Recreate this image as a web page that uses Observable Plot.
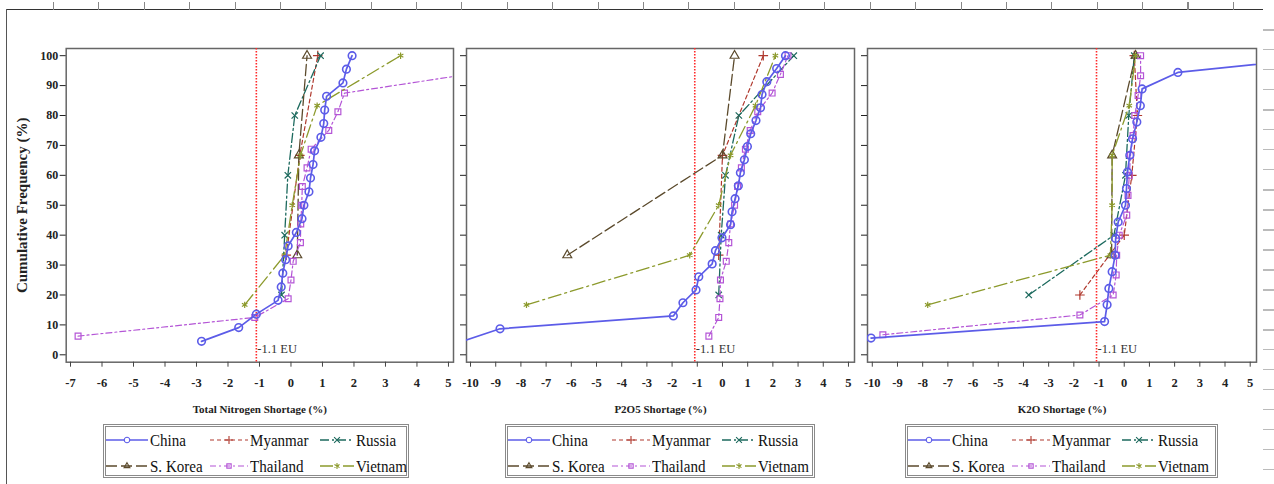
<!DOCTYPE html>
<html><head><meta charset="utf-8">
<script src="https://cdn.jsdelivr.net/npm/d3@7"></script>
<script src="https://cdn.jsdelivr.net/npm/@observablehq/plot@0.6"></script>
<style>
html,body{margin:0;padding:0;background:#fff;}
#root{position:relative;width:1274px;height:484px;overflow:hidden;font-family:"Liberation Serif","Times New Roman",serif;}
.panel{position:absolute;top:0;}
.panel text{font-family:"Liberation Serif","Times New Roman",serif;}
.legend{position:absolute;top:424px;height:54px;border:3px double #8a8a8a;box-sizing:border-box;background:#fff;}
.item{position:absolute;display:flex;align-items:center;height:22px;font-size:17.5px;color:#111;white-space:nowrap;font-family:"Liberation Serif","Times New Roman",serif;}
.item svg{margin-right:2px;}
.item span{display:inline-block;transform:scaleX(0.86);transform-origin:left center;}
.deco{position:absolute;}
</style></head>
<body><div id="root"></div>
<script>
// ---------- data ----------
const countries = ["China", "Myanmar", "Russia", "S. Korea", "Thailand", "Vietnam"];
const panelTitles = ["Total Nitrogen Shortage (%)", "P2O5 Shortage (%)", "K2O Shortage (%)"];
const yLabel = "Cumulative Frequency (%)";
const euThreshold = [-1.1];
const euLabel = ["-1.1 EU"];
const yTicks = [0, 10, 20, 30, 40, 50, 60, 70, 80, 90, 100];
const nTicks = [-7, -6, -5, -4, -3, -2, -1, 0, 1, 2, 3, 4, 5];
const pkTicks = [-10, -9, -8, -7, -6, -5, -4, -3, -2, -1, 0, 1, 2, 3, 4, 5];

// Total nitrogen shortage: [shortage %, cumulative frequency %]
const N_China = [[-2.84,4.5],[-1.66,9.1],[-1.1,13.6],[-0.41,18.2],[-0.31,22.7],[-0.26,27.3],[-0.17,31.8],[-0.09,36.4],[0.17,40.9],[0.35,45.5],[0.41,50],[0.57,54.5],[0.62,59.1],[0.70,63.6],[0.75,68.2],[0.95,72.7],[1.04,77.3],[1.07,81.8],[1.13,86.4],[1.65,90.9],[1.76,95.5],[1.94,100]];
const N_Myanmar = [[-0.15,33.3],[0.28,66.7],[0.85,100]];
const N_Russia = [[-0.3,20],[-0.2,40],[-0.1,60],[0.12,80],[0.94,100]];
const N_SKorea = [[0.2,33.3],[0.25,66.7],[0.51,100]];
const N_Thailand = [[-6.76,6.25],[-1.15,12.5],[-0.09,18.75],[0.0,25],[0.07,31.25],[0.3,37.5],[0.31,43.75],[0.34,50],[0.36,56.25],[0.51,62.5],[0.64,68.75],[1.2,75],[1.49,81.25],[1.7,87.5],[5.6,93.75],[10,100]];
const N_Vietnam = [[-1.47,16.7],[-0.2,33.3],[0.04,50],[0.3,66.7],[0.83,83.3],[3.48,100]];

// P2O5 shortage
const P_China = [[-10.4,4.3],[-8.83,8.7],[-1.95,13.0],[-1.57,17.4],[-1.05,21.7],[-0.94,26.1],[-0.41,30.4],[-0.28,34.8],[-0.02,39.1],[0.32,43.5],[0.38,47.8],[0.5,52.2],[0.63,56.5],[0.71,60.9],[0.87,65.2],[0.99,69.6],[1.12,73.9],[1.33,78.3],[1.51,82.6],[1.57,87.0],[1.76,91.3],[2.15,95.7],[2.5,100]];
const P_Myanmar = [[-0.15,33.3],[0.0,66.7],[1.62,100]];
const P_Russia = [[-0.15,20],[-0.05,40],[0.12,60],[0.65,80],[2.83,100]];
const P_SKorea = [[-6.16,33.3],[0.0,66.7],[0.48,100]];
const P_Thailand = [[-0.54,6.25],[-0.15,12.5],[-0.1,18.75],[-0.08,25],[0.15,31.25],[0.25,37.5],[0.32,43.75],[0.48,50],[0.6,56.25],[0.75,62.5],[0.91,68.75],[1.1,75],[1.4,81.25],[1.97,87.5],[2.3,93.75],[2.6,100]];
const P_Vietnam = [[-7.78,16.7],[-1.3,33.3],[-0.15,50],[0.32,66.7],[1.31,83.3],[2.1,100]];

// K2O shortage
const K_China = [[-10.05,5.6],[-0.78,11.1],[-0.68,16.7],[-0.61,22.2],[-0.48,27.8],[-0.36,33.3],[-0.34,38.9],[-0.24,44.4],[0.05,50],[0.09,55.6],[0.13,61.1],[0.22,66.7],[0.33,72.2],[0.5,77.8],[0.64,83.3],[0.71,88.9],[2.13,94.4],[8.5,100]];
const K_Myanmar = [[-1.76,20],[0.0,40],[0.3,60],[0.52,80],[0.4,100]];
const K_Russia = [[-3.79,20],[-0.41,40],[0.05,60],[0.18,80],[0.4,100]];
const K_SKorea = [[-0.5,33.3],[-0.48,66.7],[0.45,100]];
const K_Thailand = [[-9.58,6.7],[-1.76,13.3],[-0.44,20],[-0.32,26.7],[-0.3,33.3],[-0.2,40],[0.1,46.7],[0.15,53.3],[0.2,60],[0.25,66.7],[0.35,73.3],[0.42,80],[0.55,86.7],[0.65,93.3],[0.65,100]];
const K_Vietnam = [[-7.8,16.7],[-0.55,33.3],[-0.48,50],[-0.48,66.7],[0.2,83.3],[0.45,100]];

// ---------- styles ----------
const colors = ["#5c5ce8", "#b0392e", "#1d6a5e", "#5b4a2c", "#b455d6", "#8c9a2c"];
const dashes = [null, "4,3", "9,3,2,3", "11,4", "6,3,2,3", "13,4,2,4"];
const symbols = ["circle", "plus", "times", "triangle", "square", "asterisk"];
const d3symbols = [d3.symbolCircle, d3.symbolPlus, d3.symbolTimes, d3.symbolTriangle2, d3.symbolSquare2, d3.symbolAsterisk];
const lineWidths = [1.7, 1.2, 1.3, 1.3, 1.2, 1.3];
const dotR = [3.8, 3.2, 3.0, 3.3, 3.3, 3.0];
const serif = '"Liberation Serif","Times New Roman",serif';

const panels = [
  {left: 0, width: 458, ml: 65.7, mr: 5, domain: [-7.137, 5.16], ticks: nTicks, first: true,
   series: [N_China, N_Myanmar, N_Russia, N_SKorea, N_Thailand, N_Vietnam], legendLeft: 103, legendWidth: 306},
  {left: 458, width: 400, ml: 8, mr: 4, domain: [-10.16, 5.24], ticks: pkTicks, first: false,
   series: [P_China, P_Myanmar, P_Russia, P_SKorea, P_Thailand, P_Vietnam], legendLeft: 505, legendWidth: 310},
  {left: 858, width: 402, ml: 9, mr: 4, domain: [-10.19, 5.25], ticks: pkTicks, first: false,
   series: [K_China, K_Myanmar, K_Russia, K_SKorea, K_Thailand, K_Vietnam], legendLeft: 905, legendWidth: 313}
];

const root = document.getElementById("root");

// scan decorations (page edges of the source figure)
function deco(css) { const d = document.createElement("div"); d.className = "deco"; d.style.cssText = css; root.appendChild(d); }
deco("left:7px;top:9px;width:1256px;height:0;border-top:1.5px solid #333;");
deco("left:53px;top:2px;width:1182px;height:8px;background:repeating-linear-gradient(to right,#888 0 1px,transparent 1px 45.38px);");
deco("left:6px;top:9px;width:0;height:475px;border-left:1.5px solid #555;");
deco("left:1263px;top:29px;width:11px;height:455px;background:repeating-linear-gradient(to bottom,#bbb 0 1.5px,transparent 1.5px 20px);");

const order = [1, 2, 3, 4, 5, 0];

panels.forEach((p, pi) => {
  const marks = [
    Plot.frame({stroke: "#666", strokeWidth: 1.5}),
    Plot.ruleX(euThreshold, {stroke: "#ff2a2a", strokeWidth: 1.6, strokeDasharray: "1.5,1.5"}),
    Plot.text(euLabel, {x: () => euThreshold[0], frameAnchor: "bottom", dy: -9, dx: 1, textAnchor: "start", fontWeight: "normal", fontSize: 12.5, fill: "#333"}),
    Plot.axisX({ticks: p.ticks, tickFormat: d => String(d), tickSize: 5, tickPadding: 11, label: null, fontSize: 12.5, stroke: "#444"}),
    Plot.axisY({ticks: yTicks, tickFormat: p.first ? (d => String(d)) : (() => ""), tickSize: 6, tickPadding: 2, label: null, fontSize: 12}),
    Plot.text([panelTitles[pi]], {frameAnchor: "bottom", dy: 51, fontSize: 11})
  ];
  if (p.first) marks.push(Plot.text([yLabel], {frameAnchor: "left", rotate: -90, dx: -44, textAnchor: "middle", fontSize: 15}));
  order.forEach(i => {
    const s = p.series[i];
    marks.push(Plot.line(s, {x: d => d[0], y: d => d[1], stroke: colors[i], strokeWidth: lineWidths[i], strokeDasharray: dashes[i], clip: true}));
    marks.push(Plot.dot(s, {x: d => d[0], y: d => d[1], symbol: symbols[i], stroke: colors[i], fill: "none", strokeWidth: i === 0 ? 1.6 : 1.2, r: dotR[i], clip: true}));
  });
  const svg = Plot.plot({
    width: p.width, height: 420,
    marginLeft: p.ml, marginRight: p.mr, marginTop: 48, marginBottom: 58.3,
    x: {domain: p.domain},
    y: {domain: [-2.47, 102.4]},
    style: {fontFamily: serif, fontSize: "12.5px", fontWeight: "bold", background: "transparent", color: "#222", overflow: "visible"},
    marks
  });
  svg.classList.add("panel");
  svg.style.left = p.left + "px";
  svg.setAttribute("font-family", serif);
  root.appendChild(svg);

  // legend
  const box = document.createElement("div");
  box.className = "legend";
  box.style.left = p.legendLeft + "px";
  box.style.width = p.legendWidth + "px";
  const colX = [0, 104, 214];
  const sw = [42, 38, 34];
  countries.forEach((c, i) => {
    const col = i % 3, row = Math.floor(i / 3);
    const it = document.createElement("div");
    it.className = "item";
    it.style.left = colX[col] + "px";
    it.style.top = (row === 0 ? 2 : 28) + "px";
    const w = sw[col];
    const ns = "http://www.w3.org/2000/svg";
    const s = document.createElementNS(ns, "svg");
    s.setAttribute("width", w); s.setAttribute("height", 14);
    const ln = document.createElementNS(ns, "line");
    ln.setAttribute("x1", 0); ln.setAttribute("x2", w); ln.setAttribute("y1", 7); ln.setAttribute("y2", 7);
    ln.setAttribute("stroke", colors[i]); ln.setAttribute("stroke-width", lineWidths[i]);
    if (dashes[i]) ln.setAttribute("stroke-dasharray", dashes[i]);
    s.appendChild(ln);
    const mk = document.createElementNS(ns, "path");
    mk.setAttribute("d", d3.symbol(d3symbols[i], 24)());
    mk.setAttribute("transform", `translate(${w / 2},7)`);
    mk.setAttribute("fill", i === 0 ? "#fff" : "none");
    mk.setAttribute("stroke", colors[i]);
    mk.setAttribute("stroke-width", 1.1);
    s.appendChild(mk);
    it.appendChild(s);
    const t = document.createElement("span");
    t.textContent = c;
    it.appendChild(t);
    box.appendChild(it);
  });
  root.appendChild(box);
});
</script></body></html>
